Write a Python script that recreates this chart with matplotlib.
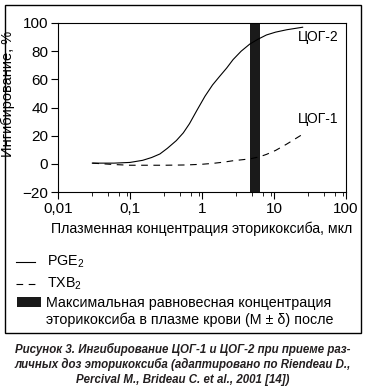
import numpy as np
import matplotlib.pyplot as plt
from matplotlib.lines import Line2D
from matplotlib.patches import Rectangle
from matplotlib.ticker import LogLocator, NullFormatter, FixedLocator, FixedFormatter

plt.rcParams['font.family'] = ['Liberation Sans', 'DejaVu Sans']
plt.rcParams['mathtext.fontset'] = 'custom'
plt.rcParams['mathtext.rm'] = 'Liberation Sans'

# ЦОГ-2 (PGE2) - сплошная линия
cox2_x = [0.03, 0.06, 0.1, 0.15, 0.2, 0.26, 0.33, 0.44, 0.55, 0.67, 0.85, 1.1,
          1.4, 1.75, 2.2, 2.7, 3.5, 4.6, 6.0, 7.85, 10.5, 15, 25]
cox2_y = [0.5, 0.5, 1, 2.5, 4.5, 7, 11, 16.5, 22, 28.5, 38, 48,
          56, 62, 68, 74, 80, 85, 88.5, 91.5, 93.5, 95.2, 97]

# ЦОГ-1 (TXB2) - пунктир
cox1_x = [0.03, 0.06, 0.1, 0.3, 0.6, 1.0, 1.4, 2.0, 2.7, 4.6, 6.3, 7.85, 10.5, 15, 25]
cox1_y = [0.5, -0.5, -1, -1, -0.8, -0.3, 0.3, 1.2, 2.2, 3.5, 5, 6.7, 9.5, 14, 21]

# максимальная концентрация в плазме
bar_lo, bar_hi = 4.6, 6.3

x_ticks = [0.01, 0.1, 1, 10, 100]
x_labels = ['0,01', '0,1', '1', '10', '100']
y_ticks = [-20, 0, 20, 40, 60, 80, 100]

W, H = 367, 390
fig = plt.figure(figsize=(W / 100, H / 100), dpi=100)

# рамка вокруг рисунка
fig.add_artist(Rectangle((5 / W, 1 - 333 / H), 356 / W, 328 / H, transform=fig.transFigure,
                         fill=False, lw=1.0, ec='black'))

ax = fig.add_axes([58 / W, 1 - 192 / H, 288 / W, 169 / H])
ax.plot(cox2_x, cox2_y, color='black', lw=0.8)
ax.plot(cox1_x, cox1_y, color='black', lw=0.8, dashes=(6, 5))
ax.axvspan(bar_lo, bar_hi, color='#1a1a1a', lw=0)

ax.set_xscale('log')
ax.set_xlim(0.01, 100)
ax.set_ylim(-20, 100)
ax.xaxis.set_major_locator(FixedLocator(x_ticks))
ax.xaxis.set_major_formatter(FixedFormatter(x_labels))
ax.xaxis.set_minor_locator(LogLocator(base=10, subs=[3, 5, 7, 9]))
ax.xaxis.set_minor_formatter(NullFormatter())
ax.set_yticks(y_ticks)
ax.tick_params(axis='both', which='major', length=5, width=0.8, labelsize=11, pad=2)
ax.tick_params(axis='x', which='minor', length=3, width=0.6)
for s in ax.spines.values():
    s.set_linewidth(0.8)

ax.text(21.5, 90, 'ЦОГ-2', fontsize=10, ha='left', va='center')
ax.text(21.5, 32, 'ЦОГ-1', fontsize=10, ha='left', va='center')

ax.set_ylabel('Ингибирование, %', fontsize=10.5)
ax.yaxis.set_label_coords(-0.15, 0.58)
ax.set_xlabel('Плазменная концентрация эторикоксиба, мкл', fontsize=10.2, labelpad=4)

# легенда (вручную)
def fx(px):
    return px / W

def fy(py):
    return 1 - py / H

fig.add_artist(Line2D([fx(16), fx(35)], [fy(262), fy(262)], color='black', lw=0.8))
fig.add_artist(Line2D([fx(16), fx(35)], [fy(284), fy(284)], color='black', lw=0.8,
                      dashes=(6, 5)))
fig.add_artist(Rectangle((fx(17), fy(307)), 24 / W, 10 / H, color='#1a1a1a', lw=0))
fig.text(fx(47), fy(262), r'PGE$_\mathregular{2}$', fontsize=10.3, va='center')
fig.text(fx(47), fy(284), r'TXB$_\mathregular{2}$', fontsize=10.3, va='center')
fig.text(fx(46), fy(303), 'Максимальная равновесная концентрация', fontsize=10.3, va='center')
fig.text(fx(46), fy(320), 'эторикоксиба в плазме крови (М ± δ) после', fontsize=10.3, va='center')

caption = ['Рисунок 3. Ингибирование ЦОГ-1 и ЦОГ-2 при приеме раз-',
           'личных доз эторикоксиба (адаптировано по Riendeau D.,',
           'Percival M., Brideau C. et al., 2001 [14])']
for i, line in enumerate(caption):
    fig.text(fx(183), fy(349 + i * 15.5), line, fontsize=8.3, fontweight='bold',
             fontstyle='italic', ha='center', va='center', color='#231f20')

fig.savefig('out.png', dpi=100)
